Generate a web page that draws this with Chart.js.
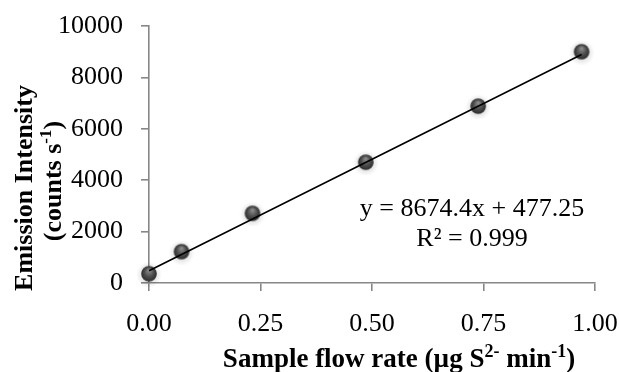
<!DOCTYPE html>
<html lang="en">
<head>
    <meta charset="UTF-8">
    <title>Emission Intensity vs Sample flow rate</title>
    <script src="https://cdn.jsdelivr.net/npm/chart.js"></script>
    <style>
        html, body { margin: 0; padding: 0; background: #fff; }
        #chart { display: block; }
    </style>
</head>
<body>
    <canvas id="chart" width="619" height="372"></canvas>

    <script>
        // Data
        const flowRate = [0, 0.073, 0.232, 0.486, 0.738, 0.970];
        const intensity = [360, 1220, 2710, 4700, 6880, 9000];

        // Linear trendline shown on the chart
        const slope = 8674.4;
        const intercept = 477.25;
        const equationText = 'y = 8674.4x + 477.25';
        const r2Text = 'R² = 0.999';

        const xTicks = [0, 0.25, 0.5, 0.75, 1];
        const yTicks = [0, 2000, 4000, 6000, 8000, 10000];

        const serif = '"Liberation Serif", "Times New Roman", serif';
        const axisGray = '#878787';

        // sphere marker drawn once on a small canvas
        function makeSphere() {
            const c = document.createElement('canvas');
            c.width = 26; c.height = 26;
            const g = c.getContext('2d');
            // faint halo
            const halo = g.createRadialGradient(13, 14, 6, 13, 14, 13);
            halo.addColorStop(0, 'rgba(0,0,0,0.12)');
            halo.addColorStop(1, 'rgba(0,0,0,0)');
            g.fillStyle = halo;
            g.beginPath(); g.arc(13, 14, 13, 0, Math.PI * 2); g.fill();
            const grad = g.createRadialGradient(13, 9.5, 0.5, 13, 13, 8);
            grad.addColorStop(0, '#8c8c8c');
            grad.addColorStop(0.55, '#4d4d4d');
            grad.addColorStop(1, '#2a2a2a');
            g.fillStyle = grad;
            g.beginPath(); g.arc(13, 13, 7.8, 0, Math.PI * 2); g.fill();
            return c;
        }

        const points = flowRate.map((x, i) => ({ x: x, y: intensity[i] }));
        const xEnd = flowRate[flowRate.length - 1];
        const trend = [
            { x: 0, y: intercept },
            { x: xEnd, y: slope * xEnd + intercept }
        ];

        // draws text made of normal and superscript pieces
        function drawRich(ctx, parts, size, cx, baseline, rotate) {
            const supSize = Math.round(size * 0.65);
            let total = 0;
            parts.forEach(p => {
                ctx.font = 'bold ' + (p.sup ? supSize : size) + 'px ' + serif;
                p.w = ctx.measureText(p.t).width;
                total += p.w;
            });
            ctx.save();
            if (rotate) {
                ctx.translate(baseline, cx);
                ctx.rotate(-Math.PI / 2);
            } else {
                ctx.translate(cx, baseline);
            }
            ctx.fillStyle = '#000';
            ctx.textBaseline = 'alphabetic';
            ctx.textAlign = 'left';
            let x = -total / 2;
            parts.forEach(p => {
                ctx.font = 'bold ' + (p.sup ? supSize : size) + 'px ' + serif;
                ctx.fillText(p.t, x, p.sup ? -size * 0.38 : 0);
                x += p.w;
            });
            ctx.restore();
        }

        const labelsPlugin = {
            id: 'labels',
            afterDraw(chart) {
                const ctx = chart.ctx;
                // axis titles
                drawRich(ctx, [{ t: 'Emission Intensity' }], 26, 188, 32, true);
                drawRich(ctx, [{ t: '(counts s' }, { t: '-1', sup: true }, { t: ')' }], 26, 181, 61, true);
                drawRich(ctx, [
                    { t: 'Sample flow rate (µg S' }, { t: '2-', sup: true },
                    { t: ' min' }, { t: '-1', sup: true }, { t: ')' }
                ], 27, 399, 367, false);

                // trendline equation
                ctx.save();
                ctx.fillStyle = '#000';
                ctx.font = '26px ' + serif;
                ctx.textAlign = 'center';
                ctx.textBaseline = 'alphabetic';
                ctx.fillText(equationText, 472, 216);
                ctx.fillText(r2Text, 472, 246);
                ctx.restore();
            }
        };

        // fixed plot box, no extra padding from the tick labels
        function pinScale(s, size) {
            if (s.isHorizontal()) s.height = size; else s.width = size;
            s.paddingTop = 0;
            s.paddingBottom = 0;
            s.paddingLeft = 0;
            s.paddingRight = 0;
        }

        const chart = new Chart(document.getElementById('chart'), {
            type: 'scatter',
            data: {
                datasets: [
                    {
                        type: 'line',
                        data: trend,
                        borderColor: '#000',
                        borderWidth: 1.6,
                        pointRadius: 0,
                        fill: false,
                        clip: false,
                        order: 0
                    },
                    {
                        data: points,
                        pointStyle: makeSphere(),
                        pointRadius: 9,
                        clip: false,
                        order: 1
                    }
                ]
            },
            options: {
                responsive: false,
                devicePixelRatio: 1,
                animation: false,
                layout: { autoPadding: false, padding: { left: 0, top: 26, right: 24, bottom: 0 } },
                plugins: {
                    legend: { display: false },
                    tooltip: { enabled: false }
                },
                scales: {
                    x: {
                        type: 'linear',
                        min: 0,
                        max: 1,
                        afterFit: s => pinScale(s, 89),
                        afterBuildTicks: s => { s.ticks = xTicks.map(v => ({ value: v })); },
                        border: { color: axisGray, width: 1.6 },
                        grid: { drawOnChartArea: false, color: axisGray, tickColor: axisGray, tickLength: 8, lineWidth: 1.6 },
                        ticks: {
                            color: '#000',
                            padding: 18,
                            maxRotation: 0,
                            font: { family: serif, size: 26 },
                            callback: v => v.toFixed(2)
                        }
                    },
                    y: {
                        min: 0,
                        max: 10000,
                        afterFit: s => pinScale(s, 149),
                        afterBuildTicks: s => { s.ticks = yTicks.map(v => ({ value: v })); },
                        border: { color: axisGray, width: 1.6 },
                        grid: { drawOnChartArea: false, color: axisGray, tickColor: axisGray, tickLength: 8, lineWidth: 1.6 },
                        ticks: {
                            color: '#000',
                            padding: 18,
                            font: { family: serif, size: 26 },
                            callback: v => String(v)
                        }
                    }
                }
            },
            plugins: [labelsPlugin]
        });
    </script>
</body>
</html>
